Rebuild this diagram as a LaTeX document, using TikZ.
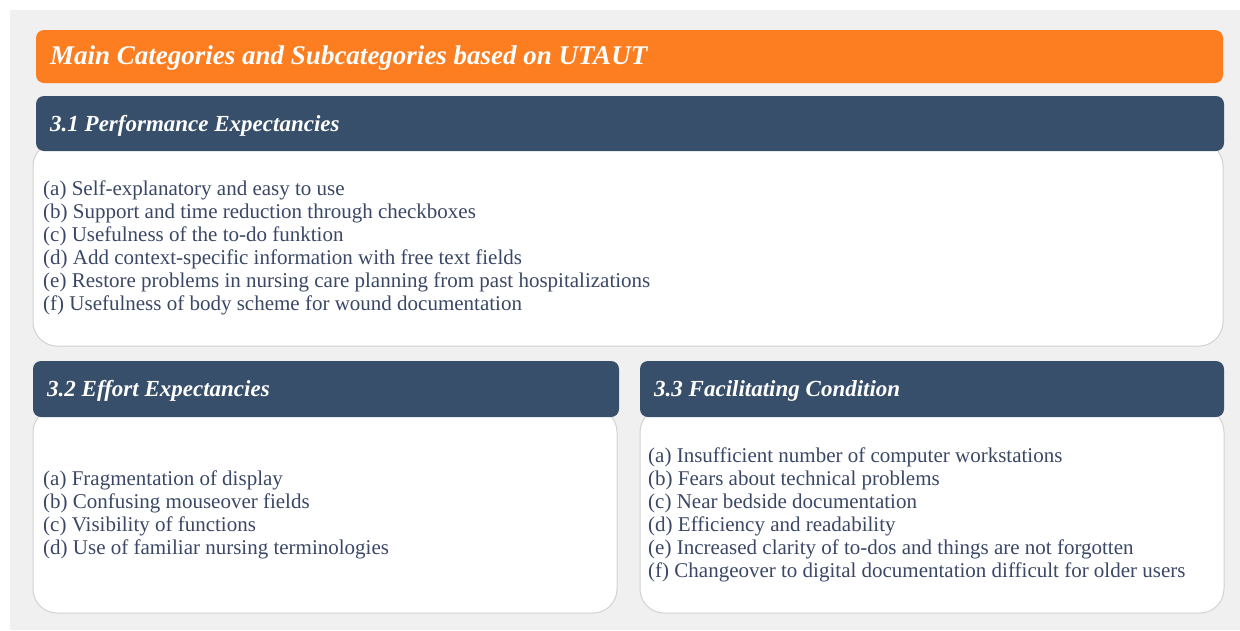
\documentclass[tikz,border=0pt]{standalone}
\usepackage{fontspec}
\setmainfont{Liberation Serif}
\definecolor{bgray}{HTML}{F0F0F0}
\definecolor{orangebar}{HTML}{FD7E20}
\definecolor{darkbar}{HTML}{374F6A}
\definecolor{boxline}{HTML}{D2D2D2}
\definecolor{bodytext}{HTML}{3A4866}
\begin{document}
\begin{tikzpicture}[x=1pt,y=-1pt,
  titlebar/.style={fill=orangebar, draw=none, rounded corners=8pt},
  headbar/.style={fill=darkbar, draw=none, rounded corners=8pt},
  whitebox/.style={fill=white, draw=boxline, line width=1pt, rounded corners=24pt},
  titletext/.style={anchor=base west, inner sep=0pt, text=white, font=\fontsize{27}{30}\selectfont\bfseries\itshape},
  headtext/.style={anchor=base west, inner sep=0pt, text=white, font=\fontsize{23}{26}\selectfont\bfseries\itshape},
  bodylist/.style={anchor=north west, inner sep=0pt, align=left, text=bodytext, font=\fontsize{21}{23}\selectfont}
]
\useasboundingbox (0,0) rectangle (1240,630);
\fill[white] (0,0) rectangle (1240,630);
\fill[bgray] (10,10) rectangle (1240,630);

% title
\path[titlebar] (36,30) rectangle (1223,83);
\node[titletext] (title) at (50,64) {Main Categories and Subcategories based on UTAUT};

% 3.1
\path[whitebox] (33,142) rectangle (1223,346);
\path[headbar] (36,96) rectangle (1224,151);
\node[headtext] (h31) at (50,131) {3.1 Performance Expectancies};
\node[bodylist] (l31) at (43,180.5) {(a) Self-explanatory and easy to use\\
(b) Support and time reduction through checkboxes\\
(c) Usefulness of the to-do funktion\\
(d) Add context-specific information with free text fields\\
(e) Restore problems in nursing care planning from past hospitalizations\\
(f) Usefulness of body scheme for wound documentation};

% 3.2
\path[whitebox] (33,408) rectangle (617,613);
\path[headbar] (33,361) rectangle (619,417);
\node[headtext] (h32) at (47,396) {3.2 Effort Expectancies};
\node[bodylist] (l32) at (43,470.5) {(a) Fragmentation of display\\
(b) Confusing mouseover fields\\
(c) Visibility of functions\\
(d) Use of familiar nursing terminologies};

% 3.3
\path[whitebox] (640,408) rectangle (1224,613);
\path[headbar] (640,361) rectangle (1224,417);
\node[headtext] (h33) at (654,396) {3.3 Facilitating Condition};
\node[bodylist] (l33) at (648,447.5) {(a) Insufficient number of computer workstations\\
(b) Fears about technical problems\\
(c) Near bedside documentation\\
(d) Efficiency and readability\\
(e) Increased clarity of to-dos and things are not forgotten\\
(f) Changeover to digital documentation difficult for older users};
\end{tikzpicture}
\end{document}
